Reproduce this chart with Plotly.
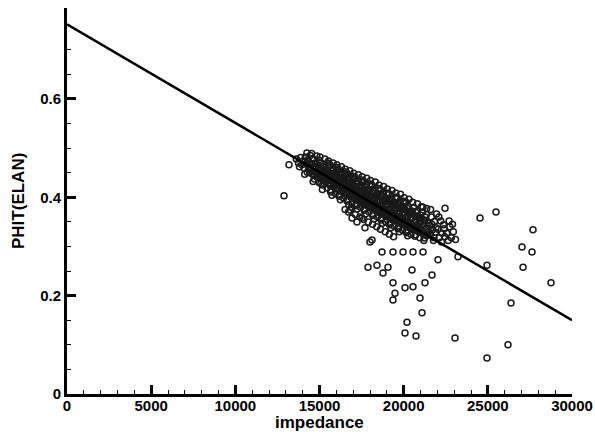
import plotly.graph_objects as go

# Core data cloud: acoustic impedance vs total porosity (PHIT from ELAN)
cloud_impedance = [
    13620, 13750, 13880, 13950, 13810,
    14030, 14090, 14160, 14220, 14270, 14330, 14390, 14450, 14480, 14120, 14250, 14410,
    14510, 14560, 14600, 14650, 14700, 14740, 14790, 14840, 14880, 14930, 14970, 14530, 14680, 14820, 14950, 14620, 14770, 14900,
    15010, 15050, 15100, 15140, 15190, 15230, 15270, 15320, 15360, 15400, 15450, 15490, 15030, 15170, 15300, 15430, 15080, 15210, 15350, 15470, 15120, 15260,
    15510, 15550, 15590, 15640, 15680, 15720, 15760, 15810, 15850, 15890, 15940, 15980, 15530, 15660, 15790, 15920, 15570, 15700, 15830, 15960, 15610, 15740, 15870, 15990,
    16010, 16050, 16090, 16130, 16180, 16220, 16260, 16300, 16350, 16390, 16430, 16470, 16030, 16160, 16280, 16410, 16070, 16200, 16330, 16460, 16110, 16240, 16370, 16490, 16150, 16320,
    16510, 16550, 16590, 16630, 16670, 16710, 16760, 16800, 16840, 16880, 16930, 16970, 16530, 16650, 16780, 16900, 16570, 16690, 16820, 16950, 16610, 16740, 16860, 16990, 16520, 16720, 16910,
    17010, 17050, 17090, 17140, 17180, 17220, 17260, 17310, 17350, 17390, 17440, 17480, 17030, 17160, 17290, 17420, 17070, 17200, 17330, 17460, 17110, 17240, 17370, 17500, 17130, 17400,
    17510, 17550, 17590, 17640, 17680, 17720, 17760, 17810, 17850, 17890, 17940, 17980, 17530, 17660, 17790, 17920, 17570, 17700, 17830, 17960, 17610, 17740, 17870, 17990, 17620, 17900,
    18010, 18050, 18090, 18140, 18180, 18220, 18260, 18310, 18350, 18390, 18440, 18480, 18030, 18160, 18290, 18420, 18070, 18200, 18330, 18460, 18110, 18240, 18370, 18500, 18150, 18400,
    18510, 18550, 18590, 18640, 18680, 18720, 18760, 18810, 18850, 18890, 18940, 18980, 18530, 18660, 18790, 18920, 18570, 18700, 18830, 18960, 18610, 18740, 18870, 18990, 18620, 18900,
    19010, 19050, 19090, 19140, 19180, 19220, 19260, 19310, 19350, 19390, 19440, 19480, 19030, 19160, 19290, 19420, 19070, 19200, 19330, 19460, 19110, 19240, 19370, 19500, 19150, 19400,
    19510, 19550, 19590, 19640, 19680, 19720, 19760, 19810, 19850, 19890, 19940, 19980, 19530, 19660, 19790, 19920, 19570, 19700, 19830, 19960, 19610, 19740, 19870, 19990,
    20010, 20050, 20090, 20140, 20180, 20220, 20260, 20310, 20350, 20390, 20440, 20480, 20030, 20160, 20290, 20420, 20070, 20200, 20330, 20460, 20110, 20240,
    20510, 20550, 20600, 20640, 20690, 20730, 20780, 20820, 20870, 20910, 20960, 20990, 20530, 20670, 20800, 20940, 20580, 20710, 20850,
    21020, 21070, 21120, 21170, 21220, 21270, 21320, 21370, 21420, 21470, 21050, 21200, 21350, 21480,
    21530, 21590, 21650, 21710, 21770, 21830, 21890, 21950, 21600, 21800, 21680, 21920,
    22040, 22120, 22200, 22280, 22360, 22440, 22090, 22250, 22400,
    22560, 22650, 22740, 22830, 22950, 23080, 22700, 22900,
]
cloud_phit = [
    0.478, 0.470, 0.481, 0.466, 0.462,
    0.474, 0.459, 0.482, 0.468, 0.451, 0.476, 0.462, 0.485, 0.455, 0.447, 0.490, 0.470,
    0.466, 0.448, 0.479, 0.458, 0.437, 0.470, 0.452, 0.484, 0.441, 0.463, 0.430, 0.489, 0.445, 0.468, 0.476, 0.432, 0.460, 0.449,
    0.455, 0.438, 0.470, 0.447, 0.425, 0.462, 0.441, 0.478, 0.432, 0.456, 0.419, 0.449, 0.482, 0.416, 0.465, 0.440, 0.428, 0.452, 0.444, 0.470, 0.459, 0.434,
    0.447, 0.429, 0.463, 0.438, 0.415, 0.455, 0.433, 0.470, 0.421, 0.444, 0.408, 0.452, 0.474, 0.411, 0.459, 0.436, 0.426, 0.441, 0.449, 0.418, 0.466, 0.404, 0.430, 0.461,
    0.437, 0.420, 0.455, 0.429, 0.405, 0.447, 0.424, 0.462, 0.411, 0.436, 0.398, 0.443, 0.466, 0.402, 0.451, 0.428, 0.416, 0.433, 0.440, 0.409, 0.458, 0.395, 0.421, 0.452, 0.430, 0.445,
    0.428, 0.411, 0.447, 0.420, 0.395, 0.438, 0.414, 0.454, 0.401, 0.427, 0.389, 0.434, 0.457, 0.392, 0.442, 0.419, 0.406, 0.424, 0.431, 0.399, 0.450, 0.385, 0.412, 0.443, 0.375, 0.370, 0.380,
    0.419, 0.402, 0.438, 0.411, 0.386, 0.429, 0.405, 0.446, 0.392, 0.418, 0.380, 0.425, 0.449, 0.383, 0.433, 0.410, 0.397, 0.415, 0.422, 0.390, 0.441, 0.376, 0.403, 0.435, 0.365, 0.360,
    0.410, 0.392, 0.430, 0.402, 0.376, 0.421, 0.396, 0.439, 0.383, 0.409, 0.370, 0.416, 0.442, 0.373, 0.425, 0.401, 0.387, 0.406, 0.413, 0.380, 0.433, 0.366, 0.394, 0.427, 0.355, 0.350,
    0.401, 0.383, 0.422, 0.393, 0.366, 0.412, 0.387, 0.431, 0.373, 0.400, 0.360, 0.407, 0.434, 0.363, 0.416, 0.392, 0.378, 0.397, 0.404, 0.370, 0.425, 0.356, 0.385, 0.418, 0.345, 0.340,
    0.392, 0.374, 0.414, 0.384, 0.357, 0.403, 0.378, 0.422, 0.364, 0.391, 0.350, 0.398, 0.425, 0.354, 0.407, 0.383, 0.369, 0.388, 0.395, 0.361, 0.416, 0.347, 0.376, 0.409, 0.335, 0.330,
    0.383, 0.365, 0.406, 0.375, 0.347, 0.394, 0.369, 0.414, 0.355, 0.382, 0.341, 0.389, 0.417, 0.344, 0.398, 0.374, 0.360, 0.379, 0.386, 0.352, 0.408, 0.338, 0.367, 0.400, 0.325, 0.320,
    0.375, 0.357, 0.398, 0.367, 0.339, 0.386, 0.361, 0.406, 0.347, 0.374, 0.333, 0.381, 0.409, 0.336, 0.390, 0.366, 0.352, 0.371, 0.378, 0.344, 0.400, 0.330, 0.359, 0.392,
    0.366, 0.348, 0.389, 0.358, 0.331, 0.377, 0.352, 0.396, 0.339, 0.365, 0.325, 0.372, 0.399, 0.328, 0.381, 0.357, 0.343, 0.362, 0.369, 0.335, 0.391, 0.322,
    0.358, 0.340, 0.380, 0.350, 0.324, 0.369, 0.344, 0.387, 0.331, 0.357, 0.318, 0.364, 0.390, 0.321, 0.372, 0.349, 0.335, 0.354, 0.361,
    0.350, 0.333, 0.370, 0.342, 0.317, 0.360, 0.337, 0.377, 0.323, 0.348, 0.381, 0.312, 0.365, 0.330,
    0.342, 0.325, 0.360, 0.334, 0.312, 0.351, 0.329, 0.366, 0.375, 0.318, 0.345, 0.338,
    0.335, 0.318, 0.352, 0.327, 0.344, 0.320, 0.360, 0.309, 0.336,
    0.327, 0.312, 0.340, 0.318, 0.330, 0.314, 0.352, 0.345,
]

# Additional samples in the densest part of the trend
core_impedance = [
    14300, 14420, 14540, 14660, 14780, 14900, 15020, 15140, 15260, 15380,
    15500, 15620, 15740, 15860, 15980, 16100, 16220, 16340, 16460, 16580,
    16700, 16820, 16940, 17060, 17180, 17300, 17420, 17540, 17660, 17780,
    17900, 18020, 18140, 18260, 18380, 18500, 18620, 18740, 18860, 18980,
    19100, 19220, 19340, 19460, 19580, 19700, 19820, 19940, 20060, 20180,
    20300, 20420, 20540, 20660, 20780, 20900, 21020, 21140, 21260, 21380,
    14360, 14480, 14600, 14720, 14840, 14960, 15080, 15200, 15320, 15440,
    15560, 15680, 15800, 15920, 16040, 16160, 16280, 16400, 16520, 16640,
    16760, 16880, 17000, 17120, 17240, 17360, 17480, 17600, 17720, 17840,
    17960, 18080, 18200, 18320, 18440, 18560, 18680, 18800, 18920, 19040,
    19160, 19280, 19400, 19520, 19640, 19760, 19880, 20000, 20120, 20240,
    20360, 20480, 20600, 20720, 20840, 20960, 21080, 21200,
]
core_phit = [
    0.474, 0.450, 0.467, 0.445, 0.463, 0.441, 0.460, 0.437, 0.455, 0.432,
    0.452, 0.427, 0.448, 0.423, 0.445, 0.419, 0.441, 0.414, 0.437, 0.410,
    0.434, 0.405, 0.429, 0.401, 0.426, 0.396, 0.421, 0.392, 0.417, 0.387,
    0.413, 0.383, 0.409, 0.378, 0.405, 0.374, 0.401, 0.369, 0.397, 0.364,
    0.393, 0.360, 0.389, 0.355, 0.385, 0.351, 0.381, 0.346, 0.376, 0.342,
    0.371, 0.338, 0.367, 0.334, 0.362, 0.330, 0.358, 0.326, 0.352, 0.322,
    0.458, 0.466, 0.453, 0.461, 0.448, 0.457, 0.444, 0.452, 0.439, 0.449,
    0.434, 0.444, 0.430, 0.440, 0.425, 0.436, 0.421, 0.432, 0.416, 0.428,
    0.412, 0.424, 0.407, 0.420, 0.402, 0.415, 0.398, 0.411, 0.393, 0.406,
    0.389, 0.402, 0.384, 0.398, 0.379, 0.393, 0.375, 0.389, 0.370, 0.385,
    0.366, 0.380, 0.361, 0.376, 0.357, 0.372, 0.352, 0.367, 0.348, 0.363,
    0.343, 0.358, 0.339, 0.354, 0.335, 0.350, 0.331, 0.346,
]

# Scattered samples away from the main trend
outlier_impedance = [
    13188, 12891, 16812, 16931, 17525, 17703, 18119, 17228, 18000, 17881,
    18416, 18772, 19069, 18713, 19366, 19960, 20554, 21149, 22040, 23228,
    24950, 20495, 19366, 20079, 20554, 21267, 21683, 19485, 19366, 20970,
    21089, 20198, 20079, 20732, 23050, 24535, 25485, 22455, 27683, 27030,
    27624, 27090, 28752, 26376, 26198, 24950, 21149,
]
outlier_phit = [
    0.466, 0.403, 0.374, 0.358, 0.358, 0.338, 0.313, 0.350, 0.309, 0.258,
    0.262, 0.246, 0.258, 0.289, 0.289, 0.289, 0.289, 0.289, 0.273, 0.279,
    0.262, 0.252, 0.226, 0.216, 0.218, 0.226, 0.242, 0.205, 0.191, 0.195,
    0.165, 0.146, 0.124, 0.118, 0.114, 0.358, 0.370, 0.378, 0.334, 0.299,
    0.289, 0.258, 0.226, 0.185, 0.100, 0.073, 0.380,
]

# Linear fit PHIT = a + b * impedance
fit_impedance = [0, 30000]
fit_phit = [0.752, 0.150]

x_ticks = [0, 5000, 10000, 15000, 20000, 25000, 30000]
x_tick_text = ["0", "5000", "10000", "15000", "20000", "25000", "30000"]
y_ticks = [0, 0.2, 0.4, 0.6]
y_tick_text = ["0", "0.2", "0.4", "0.6"]
x_title = "impedance"
y_title = "PHIT(ELAN)"

marker_style = dict(symbol="circle-open", size=6, color="#1a1a1a",
                    line=dict(width=1.5, color="#1a1a1a"))

fig = go.Figure()
for xs, ys in ((cloud_impedance, cloud_phit), (core_impedance, core_phit),
               (outlier_impedance, outlier_phit)):
    fig.add_trace(go.Scatter(x=xs, y=ys, mode="markers",
                             marker=marker_style, showlegend=False))
fig.add_trace(go.Scatter(x=fit_impedance, y=fit_phit, mode="lines",
                         line=dict(color="black", width=2.5), showlegend=False))

tick_font = dict(family="Liberation Sans, Arial, sans-serif", size=15,
                 color="black", weight="bold")
title_font = dict(family="Liberation Sans, Arial, sans-serif", size=17,
                  color="black", weight="bold")

fig.update_layout(
    width=595, height=432,
    margin=dict(l=67, r=23, t=8, b=38),
    paper_bgcolor="white", plot_bgcolor="white",
    xaxis=dict(
        range=[0, 30000], tickvals=x_ticks, ticktext=x_tick_text,
        ticks="inside", ticklen=9, tickwidth=2.5, tickcolor="black",
        showline=True, linewidth=3, linecolor="black", showgrid=False,
        zeroline=False, mirror=False, tickfont=tick_font, automargin=False,
        ticklabelstandoff=-4,
        minor=dict(ticks="inside", dtick=1000, ticklen=4, tickwidth=1,
                   tickcolor="black", showgrid=False),
    ),
    yaxis=dict(
        range=[0, 0.785], tickvals=y_ticks, ticktext=y_tick_text,
        ticks="inside", ticklen=9, tickwidth=2.5, tickcolor="black",
        showline=True, linewidth=3, linecolor="black", showgrid=False,
        zeroline=False, mirror=False, tickfont=tick_font, automargin=False,
        minor=dict(ticks="inside", dtick=0.05, ticklen=4, tickwidth=1,
                   tickcolor="black", showgrid=False),
    ),
    annotations=[
        dict(text=x_title, xref="paper", yref="paper", x=0.5, y=0,
             xanchor="center", yanchor="middle", yshift=-28,
             showarrow=False, font=title_font),
        dict(text=y_title, xref="paper", yref="paper", x=0, y=0.5,
             xanchor="center", yanchor="middle", xshift=-49, textangle=-90,
             showarrow=False, font=title_font),
    ],
)

fig.write_html("out.html")
